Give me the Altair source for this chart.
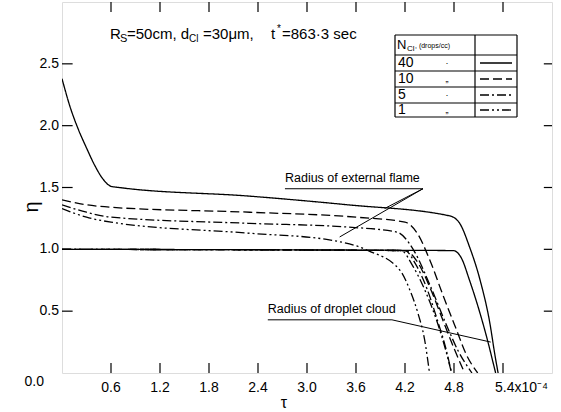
import altair as alt
import pandas as pd

# ---------------- data ----------------
# external flame radius
flame40_t = [0.0, 0.1, 0.2, 0.3, 0.4, 0.5, 0.6, 0.7, 2.3, 3.5, 4.75, 4.87, 4.99, 5.12, 5.24, 5.30, 5.34]
flame40_e = [2.38, 2.15, 1.97, 1.82, 1.68, 1.57, 1.51, 1.50, 1.43, 1.36, 1.27, 1.21, 1.02, 0.75, 0.40, 0.15, 0.0]
flame10_t = [0.0, 0.3, 0.6, 2.3, 3.6, 4.2, 4.34, 4.5, 4.67, 4.83, 4.95, 5.09]
flame10_e = [1.40, 1.36, 1.34, 1.30, 1.26, 1.22, 1.14, 0.92, 0.62, 0.35, 0.15, 0.0]
flame5_t = [0.0, 0.3, 0.6, 2.3, 3.5, 4.1, 4.3, 4.5, 4.7, 4.85, 5.02]
flame5_e = [1.36, 1.30, 1.26, 1.21, 1.18, 1.14, 1.00, 0.72, 0.40, 0.18, 0.0]
flame1_t = [0.0, 0.3, 0.6, 2.3, 3.24, 3.75, 4.14, 4.26, 4.36, 4.44, 4.50]
flame1_e = [1.33, 1.26, 1.22, 1.13, 1.08, 0.99, 0.83, 0.67, 0.48, 0.27, 0.0]
# droplet cloud radius
cloud40_t = [0.0, 4.79, 4.89, 4.99, 5.12, 5.22, 5.28, 5.31]
cloud40_e = [1.0, 0.99, 0.93, 0.75, 0.48, 0.24, 0.08, 0.0]
cloud10_t = [0.0, 4.2, 4.35, 4.5, 4.65, 4.8, 4.93]
cloud10_e = [1.0, 0.99, 0.90, 0.70, 0.45, 0.20, 0.0]
cloud5_t = [0.0, 4.2, 4.33, 4.47, 4.6, 4.7, 4.77]
cloud5_e = [1.0, 0.99, 0.88, 0.68, 0.42, 0.20, 0.0]
cloud1_t = [0.0, 4.15, 4.3, 4.45, 4.6, 4.7, 4.77]
cloud1_e = [1.0, 0.99, 0.86, 0.66, 0.40, 0.18, 0.0]

x_ticks = [0.6, 1.2, 1.8, 2.4, 3.0, 3.6, 4.2, 4.8, 5.4]
x_tick_labels = ["0.6", "1.2", "1.8", "2.4", "3.0", "3.6", "4.2", "4.8", "5.4x10⁻⁴"]
y_ticks = [0.5, 1.0, 1.5, 2.0, 2.5]
y_tick_labels = ["0.5", "1.0", "1.5", "2.0", "2.5"]

legend_n = ["40", "10", "5", "1"]
legend_ditto = ["·", "\u201e", "·", "\u201e"]

W, H = 490, 371
XD, YD = [0.0, 6.0], [0.0, 3.0]
FONT = "Liberation Sans"

xs = alt.Scale(domain=XD, nice=False, zero=False)
ys = alt.Scale(domain=YD, nice=False, zero=False)
X = lambda f="t": alt.X(f"{f}:Q", scale=xs, axis=None)
Y = lambda f="e": alt.Y(f"{f}:Q", scale=ys, axis=None)
PX = lambda f="x": alt.X(f"{f}:Q", scale=None, axis=None)
PY = lambda f="y": alt.Y(f"{f}:Q", scale=None, axis=None)

DASH = {"solid": [1, 0], "dashed": [9, 4], "dashdot": [9, 3, 2, 3], "dashdotdot": [9, 3, 2, 3, 2, 3]}

curves = [
    (flame40_t, flame40_e, "solid"), (cloud40_t, cloud40_e, "solid"),
    (flame10_t, flame10_e, "dashed"), (cloud10_t, cloud10_e, "dashed"),
    (flame5_t, flame5_e, "dashdot"), (cloud5_t, cloud5_e, "dashdot"),
    (flame1_t, flame1_e, "dashdotdot"), (cloud1_t, cloud1_e, "dashdotdot"),
]

layers = []
for t, e, style in curves:
    df = pd.DataFrame({"t": t, "e": e})
    layers.append(
        alt.Chart(df).mark_line(color="black", strokeWidth=1.3, strokeDash=DASH[style],
                                interpolate="monotone", clip=True)
        .encode(x=X(), y=Y())
    )

# inward ticks
bt = pd.DataFrame({"t": x_ticks, "e": [0.0] * len(x_ticks), "e2": [0.08] * len(x_ticks)})
tt = pd.DataFrame({"t": x_ticks, "e": [3.0] * len(x_ticks), "e2": [2.92] * len(x_ticks)})
lt = pd.DataFrame({"t": [0.0] * len(y_ticks), "t2": [0.13] * len(y_ticks), "e": y_ticks})
rt = pd.DataFrame({"t": [6.0] * len(y_ticks), "t2": [5.9] * len(y_ticks), "e": y_ticks})
for d in (bt, tt):
    layers.append(alt.Chart(d).mark_rule(color="black", strokeWidth=1.2)
                  .encode(x=X(), y=Y(), y2="e2:Q"))
for d in (lt, rt):
    layers.append(alt.Chart(d).mark_rule(color="black", strokeWidth=1.2)
                  .encode(x=X(), x2="t2:Q", y=Y()))

# tick labels
xl = pd.DataFrame({"t": x_ticks, "lab": x_tick_labels})
layers.append(alt.Chart(xl).mark_text(font=FONT, fontSize=14, baseline="top", dy=8, align="center")
              .encode(x=X(), y=alt.value(H), text="lab:N")
              .transform_filter(alt.datum.t < 5))
layers.append(alt.Chart(xl).mark_text(font=FONT, fontSize=14, baseline="top", dy=8, align="left", dx=-8)
              .encode(x=X(), y=alt.value(H), text="lab:N")
              .transform_filter(alt.datum.t > 5))
yl = pd.DataFrame({"e": y_ticks, "lab": y_tick_labels})
layers.append(alt.Chart(yl).mark_text(font=FONT, fontSize=14, baseline="middle", align="right", dx=-3)
              .encode(x=alt.value(0), y=Y(), text="lab:N"))
layers.append(alt.Chart(pd.DataFrame({"lab": ["0.0"]})).mark_text(font=FONT, fontSize=14, baseline="top", align="right")
              .encode(x=alt.value(-18), y=alt.value(H + 2), text="lab:N"))

# axis titles
layers.append(alt.Chart(pd.DataFrame({"lab": ["τ"]})).mark_text(font=FONT, fontSize=16, baseline="top")
              .encode(x=alt.value(222), y=alt.value(H + 22), text="lab:N"))
layers.append(alt.Chart(pd.DataFrame({"lab": ["η"]})).mark_text(font=FONT, fontSize=20, angle=270)
              .encode(x=alt.value(-30), y=alt.value(205), text="lab:N"))

# header text with subscripts (pixel positions inside plot area)
head_x = [48, 58, 65, 127, 141, 209, 215, 220]
head_y = [32, 37, 32, 37, 32, 32, 27, 32]
head_s = [15, 11, 15, 10, 15, 15, 10, 15]
head_t = ["R", "S", "=50cm,  d", "Cl", "=30μm,", "t", "*", "=863·3 sec"]
for hx, hy, hs, ht in zip(head_x, head_y, head_s, head_t):
    layers.append(alt.Chart(pd.DataFrame({"lab": [ht]})).mark_text(font=FONT, fontSize=hs, align="left", baseline="middle")
                  .encode(x=alt.value(hx), y=alt.value(hy), text="lab:N"))

# annotations
ann = pd.DataFrame({"t": [2.73, 2.52], "e": [1.52, 0.46],
                    "lab": ["Radius of external flame", "Radius of droplet cloud"]})
layers.append(alt.Chart(ann).mark_text(font=FONT, fontSize=12.5, align="left", baseline="bottom")
              .encode(x=X(), y=Y(), text="lab:N"))
under = pd.DataFrame({"t": [2.73, 2.52], "t2": [4.42, 4.04], "e": [1.49, 0.43]})
layers.append(alt.Chart(under).mark_rule(color="black", strokeWidth=1)
              .encode(x=X(), x2="t2:Q", y=Y()))
lead = pd.DataFrame({
    "t":  [4.42, 4.42, 4.04],
    "e":  [1.49, 1.49, 0.43],
    "t2": [3.95, 3.40, 5.25],
    "e2": [1.33, 1.10, 0.25],
})
layers.append(alt.Chart(lead).mark_rule(color="black", strokeWidth=1)
              .encode(x=X(), x2="t2:Q", y=Y(), y2="e2:Q"))

# legend table (pixel based, inside plot area)
TX0, TX1, TXM = 333, 455, 413
rows_y = [33, 53, 69, 85, 101, 115]
hl = pd.DataFrame({"y": rows_y})
layers.append(alt.Chart(hl).mark_rule(color="black", strokeWidth=1.2)
              .encode(x=alt.value(TX0), x2=alt.value(TX1), y=PY()))
vl = pd.DataFrame({"x": [TX0, TXM, TX1]})
layers.append(alt.Chart(vl).mark_rule(color="black", strokeWidth=1.2)
              .encode(x=PX(), y=alt.value(rows_y[0]), y2=alt.value(rows_y[-1])))
layers.append(alt.Chart(pd.DataFrame({"lab": ["N"]})).mark_text(font=FONT, fontSize=13, align="left", baseline="middle")
              .encode(x=alt.value(TX0 + 2), y=alt.value(43), text="lab:N"))
layers.append(alt.Chart(pd.DataFrame({"lab": ["Cl"]})).mark_text(font=FONT, fontSize=8, align="left", baseline="middle")
              .encode(x=alt.value(TX0 + 12), y=alt.value(47), text="lab:N"))
layers.append(alt.Chart(pd.DataFrame({"lab": [", (drops/cc)"]})).mark_text(font=FONT, fontSize=7, align="left", baseline="middle")
              .encode(x=alt.value(TX0 + 20), y=alt.value(44), text="lab:N"))
leg = pd.DataFrame({"n": legend_n, "d": legend_ditto, "y": [61, 77, 93, 108]})
layers.append(alt.Chart(leg).mark_text(font=FONT, fontSize=14, align="left", baseline="middle")
              .encode(x=alt.value(TX0 + 3), y=PY(), text="n:N"))
layers.append(alt.Chart(leg).mark_text(font=FONT, fontSize=9, align="center", baseline="middle")
              .encode(x=alt.value(385), y=PY(), text="d:N"))
for i, style in enumerate(["solid", "dashed", "dashdot", "dashdotdot"]):
    d = pd.DataFrame({"y": [leg.y[i]]})
    layers.append(alt.Chart(d).mark_rule(color="black", strokeWidth=1.3, strokeDash=DASH[style])
                  .encode(x=alt.value(TXM + 5), x2=alt.value(TX1 - 5), y=PY()))

chart = alt.layer(*layers).properties(
    width=W, height=H,
    padding={"left": 62, "top": 2, "right": 9, "bottom": 39},
    autosize="none",
).configure_view(stroke="black", strokeWidth=1.5).configure(background="white")

chart.save("out.html", embed_options={"renderer": "svg", "actions": False})
